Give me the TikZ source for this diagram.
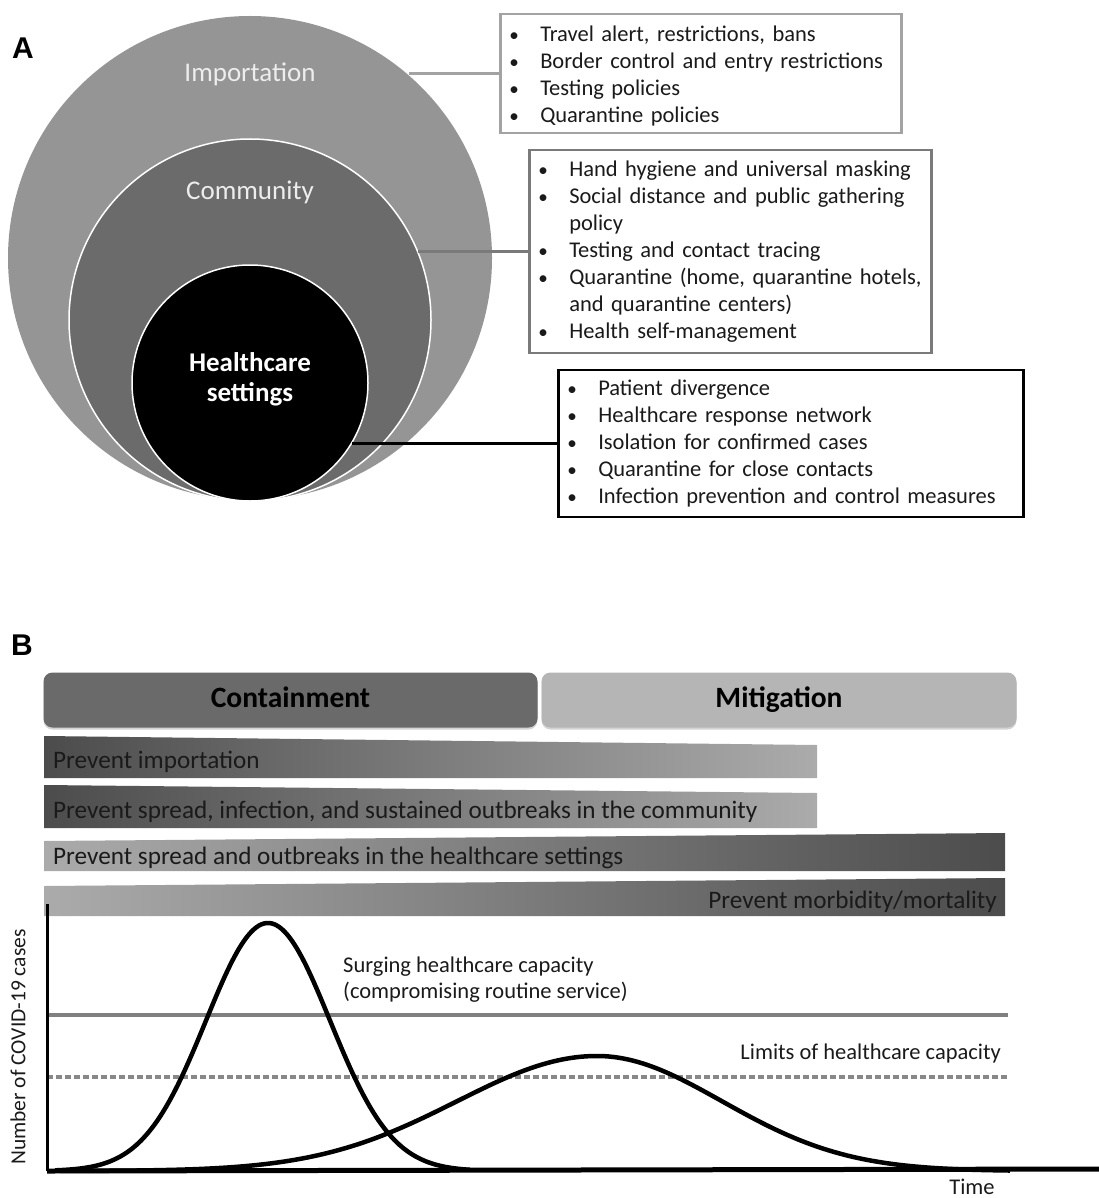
\documentclass[tikz,border=0pt]{standalone}
\usepackage{fontspec}
\setmainfont{Carlito}
\newfontfamily\panelfont{Liberation Sans}
\usepackage{tikz}
\usetikzlibrary{shadows}
\definecolor{outergray}{HTML}{959595}
\definecolor{midgray}{HTML}{6B6B6B}
\definecolor{impgray}{HTML}{A3A3A3}
\definecolor{commgray}{HTML}{7A7A7A}
\definecolor{containgray}{HTML}{6A6A6A}
\definecolor{mitigategray}{HTML}{B5B5B5}
\definecolor{bardark}{HTML}{4C4C4C}
\definecolor{barlight}{HTML}{ABABAB}
\definecolor{capgray}{HTML}{808080}
\definecolor{limgray}{HTML}{888888}
\definecolor{inktext}{HTML}{1A1A1A}
\newcommand{\bul}{\makebox[31pt][l]{\scalebox{0.85}{\textbullet}}}
\newcommand{\cont}{\hspace*{31pt}}
\newcommand{\listFont}{\fontsize{22.5}{27}\selectfont}

\begin{document}
\begin{tikzpicture}[x=1pt, y=-1pt]
  \tikzset{
    ring/.style={circle, inner sep=0pt, outer sep=0pt},
    ringlabel/.style={text=white!93!black, font=\fontsize{27}{30}\selectfont},
    listbox/.style={draw, line width=2.5pt, fill=white, anchor=west, align=left,
      inner xsep=9pt, inner ysep=0pt, text=inktext, font=\listFont},
    panel/.style={inner sep=0pt, font=\panelfont\fontsize{30}{34}\selectfont\bfseries},
    phasebox/.style={rounded corners=9pt, minimum height=55pt, text height=20pt, text depth=6pt,
      font=\fontsize{29.5}{32}\selectfont\bfseries,
      drop shadow={shadow xshift=0pt, shadow yshift=-2pt, opacity=0.35}},
    bartext/.style={text=inktext, inner sep=0pt, font=\fontsize{25.2}{29}\selectfont},
    charttext/.style={text=inktext, inner sep=0pt, font=\fontsize{22.5}{26}\selectfont},
    curve/.style={line width=4.5pt, line join=round},
  }
  \useasboundingbox (0,0) rectangle (1099,1198);

  \node[panel] (panelA) at (23,48) {A};
  \node[ring, fill=outergray, minimum size=484pt] (imp) at (250,258) {};
  \node[ring, fill=midgray, draw=white, line width=1.5pt, minimum size=362pt] (comm) at (250,320) {};
  \node[ring, fill=black, draw=white, line width=1.5pt, minimum size=236pt] (hc) at (250,383) {};
  \node[ringlabel] (implab) at (250,74) {Importation};
  \node[ringlabel] (commlab) at (250,192) {Community};
  \node[ringlabel, text=white, font=\fontsize{27}{30}\selectfont\bfseries, align=center] (hclab) at (250,379) {Healthcare\\settings};

  \node[listbox, draw=impgray, text width=383pt, minimum height=119pt] (box1) at (499,73.5)
    {\rule{0pt}{20pt}\bul Travel alert, restrictions, bans\\
     \bul Border control and entry restrictions\\
     \bul Testing policies\\
     \bul Quarantine policies};
  \node[listbox, draw=commgray, text width=384pt, minimum height=203pt] (box2) at (528,251.5)
    {\bul Hand hygiene and universal masking\\
     \bul Social distance and public gathering\\
     \cont policy\\
     \bul Testing and contact tracing\\
     \bul Quarantine (home, quarantine hotels,\\
     \cont and quarantine centers)\\
     \bul Health self-management};
  \node[listbox, draw=black, text width=447pt, minimum height=147pt] (box3) at (557,443.5)
    {\bul Patient divergence\\
     \bul Healthcare response network\\
     \bul Isolation for confirmed cases\\
     \bul Quarantine for close contacts\\
     \bul Infection prevention and control measures};

  \draw[impgray, line width=3pt] (box1.west) -- (box1.west -| imp.49.7);
  \draw[commgray, line width=3pt] (box2.west) -- (box2.west -| comm.22.2);
  \draw[black, line width=3pt] (box3.west) -- (box3.west -| hc.-30.8);

  \node[panel] (panelB) at (22,645) {B};
  \node[phasebox, fill=containgray, minimum width=494pt] (contain) at (290.5,700) {Containment};
  \node[phasebox, fill=mitigategray, minimum width=475pt] (mitigate) at (779,700) {Mitigation};

  \shade[left color=bardark, right color=barlight] (44,736) -- (817,745) -- (817,778) -- (44,778) -- cycle;
  \shade[left color=bardark, right color=barlight] (44,785) -- (817,793) -- (817,828) -- (44,828) -- cycle;
  \shade[left color=barlight, right color=bardark] (44,841) -- (1005,833) -- (1005,871) -- (44,871) -- cycle;
  \shade[left color=barlight, right color=bardark] (44,886) -- (1005,878) -- (1005,916) -- (44,916) -- cycle;
  \node[bartext, anchor=west] (bar1) at (53,762) {Prevent importation};
  \node[bartext, anchor=west] (bar2) at (53,812) {Prevent spread, infection, and sustained outbreaks in the community};
  \node[bartext, anchor=west] (bar3) at (53,858) {Prevent spread and outbreaks in the healthcare settings};
  \node[bartext, anchor=east] (bar4) at (997,902) {Prevent morbidity/mortality};

  \coordinate (origin) at (47,1171);
  \coordinate (ytop) at (47,904);
  \coordinate (xend) at (1099,1169);
  \coordinate (surgeL) at (47,1015);
  \coordinate (surgeR) at (1008,1015);
  \coordinate (limL) at (47,1077);
  \coordinate (limR) at (1008,1077);

  \draw[capgray, line width=4pt] (surgeL) -- (surgeR);
  \draw[limgray, line width=4pt, dash pattern=on 5.5pt off 3.5pt] (limL) -- (limR);
  \draw[curve] plot[domain=55:470, samples=160] (\x, {1171-248*exp(-0.5*((\x-268)/62)^2)});
  \draw[curve] plot[domain=60:1010, samples=200] (\x, {1171-115*exp(-0.5*((\x-597)/(\x<597 ? 140 : 125))^2)});
  \draw[line width=3pt] (ytop) -- (origin);
  \draw[line width=5pt] (origin) -- (xend);

  \node[charttext, anchor=west, align=left] (surge) at (343,980) {Surging healthcare capacity\\(compromising routine service)};
  \node[charttext, anchor=east] (limits) at (1001,1053) {Limits of healthcare capacity};
  \node[charttext, rotate=90, font=\fontsize{21.5}{25}\selectfont] (ylab) at (18,1047) {Number of COVID-19 cases};
  \node[charttext] (time) at (972,1187) {Time};
\end{tikzpicture}
\end{document}
